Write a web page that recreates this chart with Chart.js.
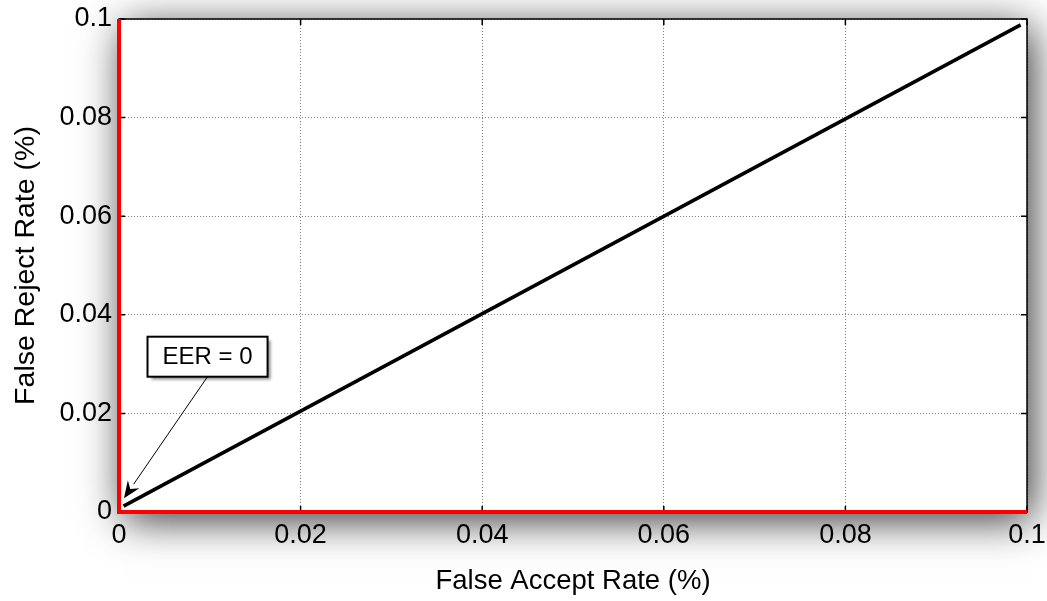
<!DOCTYPE html>
<html><head><meta charset="utf-8">
<script src="https://cdn.jsdelivr.net/npm/chart.js@4.4.1/dist/chart.umd.min.js"></script>
<style>html,body{margin:0;padding:0;background:#fff}#wrap{width:1047px;height:601px}</style>
</head><body><div id="wrap"><canvas id="c" width="1047" height="601"></canvas></div>
<script>
// ---- data ----
const tickValues = [0, 0.02, 0.04, 0.06, 0.08, 0.1];
const tickLabels = ['0', '0.02', '0.04', '0.06', '0.08', '0.1'];
const frrX = [0, 0, 0.1];
const frrY = [0.1, 0, 0];
const diagX = [0.0005, 0.0993];
const diagY = [0.0012, 0.0988];
const xTitle = 'False Accept Rate (%)';
const yTitle = 'False Reject Rate (%)';
const annText = 'EER = 0';
const annTip = [0.00055, 0.0028];
const annCenter = [0.00975, 0.0315];

const FONT = "'Liberation Sans', Arial, sans-serif";

const decor = {
  id: 'decor',
  beforeDraw(chart) {
    const {ctx, chartArea: a, width, height} = chart;
    ctx.save();
    ctx.fillStyle = '#fff';
    ctx.fillRect(0, 0, width, height);
    ctx.shadowColor = 'rgba(0,0,0,0.8)';
    ctx.shadowBlur = 40;
    ctx.shadowOffsetX = 5;
    ctx.shadowOffsetY = 8;
    ctx.fillRect(a.left, a.top, a.right - a.left, a.bottom - a.top);
    ctx.restore();
  },
  beforeDatasetsDraw(chart) {
    const {ctx, chartArea: a, scales: {x: xs, y: ys}} = chart;
    ctx.save();
    ctx.strokeStyle = '#000';
    ctx.lineWidth = 1.5;
    ctx.strokeRect(a.left, a.top, a.right - a.left, a.bottom - a.top);
    const L = 6;
    ctx.beginPath();
    tickValues.forEach(v => {
      const px = xs.getPixelForValue(v);
      ctx.moveTo(px, a.bottom); ctx.lineTo(px, a.bottom - L);
      ctx.moveTo(px, a.top); ctx.lineTo(px, a.top + L);
      const py = ys.getPixelForValue(v);
      ctx.moveTo(a.left, py); ctx.lineTo(a.left + L, py);
      ctx.moveTo(a.right, py); ctx.lineTo(a.right - L, py);
    });
    ctx.stroke();
    ctx.restore();
  },
  afterDatasetsDraw(chart) {
    const {ctx, scales: {x: xs, y: ys}} = chart;
    ctx.save();
    ctx.font = '24px ' + FONT;
    const tw = ctx.measureText(annText).width;
    const bw = tw + 30, bh = 40;
    const cx = xs.getPixelForValue(annCenter[0]);
    const cy = ys.getPixelForValue(annCenter[1]);
    const bx = cx - bw / 2, by = cy - bh / 2;
    ctx.shadowColor = 'rgba(0,0,0,0.45)';
    ctx.shadowBlur = 3;
    ctx.shadowOffsetX = 3;
    ctx.shadowOffsetY = 3;
    ctx.fillStyle = '#fff';
    ctx.fillRect(bx, by, bw, bh);
    ctx.shadowColor = 'transparent';
    ctx.lineWidth = 2;
    ctx.strokeStyle = '#000';
    ctx.strokeRect(bx, by, bw, bh);
    ctx.fillStyle = '#000';
    ctx.textAlign = 'center';
    ctx.textBaseline = 'middle';
    ctx.fillText(annText, cx, cy + 1);
    const tx = xs.getPixelForValue(annTip[0]);
    const ty = ys.getPixelForValue(annTip[1]);
    const sx = cx, sy = by + bh;
    const ang = Math.atan2(ty - sy, tx - sx);
    const hl = 17, hw = 7;
    const bxp = tx - hl * Math.cos(ang), byp = ty - hl * Math.sin(ang);
    ctx.lineWidth = 1;
    ctx.beginPath();
    ctx.moveTo(sx, sy); ctx.lineTo(bxp, byp); ctx.stroke();
    ctx.beginPath();
    ctx.moveTo(tx, ty);
    ctx.lineTo(bxp + hw * Math.sin(ang), byp - hw * Math.cos(ang));
    ctx.lineTo(tx - 0.65 * hl * Math.cos(ang), ty - 0.65 * hl * Math.sin(ang));
    ctx.lineTo(bxp - hw * Math.sin(ang), byp + hw * Math.cos(ang));
    ctx.closePath();
    ctx.fill();
    ctx.restore();
  }
};

function axis(pos, title, titleSize, titlePad, fitFn) {
  return {
    type: 'linear', position: pos, min: 0, max: 0.1,
    afterBuildTicks: s => { s.ticks = tickValues.map(v => ({value: v})); },
    afterFit: fitFn,
    ticks: {
      callback: (v, i) => tickLabels[i],
      font: {family: FONT, size: 27}, color: '#000', padding: 7,
      maxRotation: 0, autoSkip: false
    },
    grid: {color: 'rgba(0,0,0,0.5)', lineWidth: 1, drawTicks: false},
    border: {display: false, dash: [1, 2]},
    title: {display: true, text: title, color: '#000',
      font: {family: FONT, size: titleSize}, padding: titlePad}
  };
}

new Chart(document.getElementById('c'), {
  type: 'line',
  data: {
    datasets: [
      {data: frrX.map((x, i) => ({x, y: frrY[i]})), borderColor: '#ff0000',
       borderWidth: 4, pointRadius: 0, tension: 0, clip: false, fill: false},
      {data: diagX.map((x, i) => ({x, y: diagY[i]})), borderColor: '#000',
       borderWidth: 3.5, pointRadius: 0, tension: 0, fill: false}
    ]
  },
  options: {
    responsive: false, animation: false, devicePixelRatio: 1,
    layout: {padding: {top: 19, right: 20, left: 0, bottom: 0}},
    plugins: {legend: {display: false}, tooltip: {enabled: false}},
    scales: {
      x: axis('bottom', xTitle, 27.5, {top: 0, bottom: 3},
        s => { s.height = 89; s.paddingLeft = 0; s.paddingRight = 0; }),
      y: axis('left', yTitle, 28.5, {top: 9, bottom: 0},
        s => { s.width = 119; s.paddingTop = 0; s.paddingBottom = 0; })
    }
  },
  plugins: [decor]
});
</script></body></html>
